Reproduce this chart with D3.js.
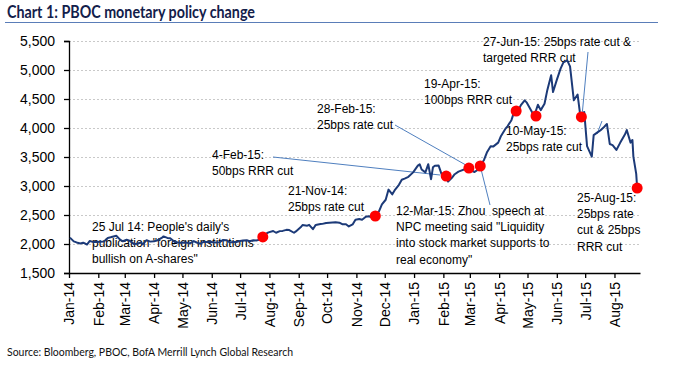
<!DOCTYPE html>
<html><head><meta charset="utf-8">
<script src="https://cdn.jsdelivr.net/npm/d3@7"></script>
<style>
body{margin:0;background:#fff;}
svg{display:block;}
</style></head>
<body>
<svg id="chart" width="689" height="368"></svg>
<script>
// ---- data (Shanghai Composite) ----
const dates = [
"2014-01-02","2014-01-06","2014-01-09","2014-01-13","2014-01-16","2014-01-20","2014-01-23","2014-01-27","2014-01-30",
"2014-02-07","2014-02-11","2014-02-14","2014-02-18","2014-02-20","2014-02-24","2014-02-27",
"2014-03-03","2014-03-06","2014-03-11","2014-03-14","2014-03-18","2014-03-20","2014-03-24","2014-03-28",
"2014-04-01","2014-04-04","2014-04-09","2014-04-11","2014-04-15","2014-04-18","2014-04-23","2014-04-28",
"2014-05-05","2014-05-09","2014-05-13","2014-05-16","2014-05-20","2014-05-23","2014-05-27","2014-05-30",
"2014-06-04","2014-06-09","2014-06-13","2014-06-17","2014-06-20","2014-06-24","2014-06-27",
"2014-07-01","2014-07-04","2014-07-08","2014-07-11","2014-07-15","2014-07-18","2014-07-22","2014-07-25","2014-07-29","2014-07-31",
"2014-08-05","2014-08-08","2014-08-12","2014-08-15","2014-08-19","2014-08-22","2014-08-27","2014-08-29",
"2014-09-03","2014-09-05","2014-09-10","2014-09-12","2014-09-16","2014-09-19","2014-09-24","2014-09-26","2014-09-30",
"2014-10-10","2014-10-14","2014-10-17","2014-10-21","2014-10-24","2014-10-28","2014-10-31",
"2014-11-04","2014-11-07","2014-11-11","2014-11-14","2014-11-18","2014-11-21","2014-11-25","2014-11-28",
"2014-12-02","2014-12-05","2014-12-09","2014-12-12","2014-12-16","2014-12-19","2014-12-22","2014-12-26","2014-12-31",
"2015-01-05","2015-01-07","2015-01-09","2015-01-13","2015-01-16","2015-01-19","2015-01-21","2015-01-23","2015-01-27","2015-01-30",
"2015-02-03","2015-02-04","2015-02-06","2015-02-10","2015-02-13","2015-02-17","2015-02-27",
"2015-03-03","2015-03-06","2015-03-10","2015-03-12","2015-03-16","2015-03-19","2015-03-23","2015-03-26","2015-03-31",
"2015-04-03","2015-04-08","2015-04-10","2015-04-14","2015-04-17","2015-04-21","2015-04-24","2015-04-28","2015-04-30",
"2015-05-05","2015-05-08","2015-05-12","2015-05-15","2015-05-19","2015-05-22","2015-05-26","2015-05-28",
"2015-06-01","2015-06-05","2015-06-08","2015-06-12","2015-06-15","2015-06-19","2015-06-23","2015-06-26","2015-06-30",
"2015-07-03","2015-07-08","2015-07-10","2015-07-14","2015-07-17","2015-07-21","2015-07-24","2015-07-27","2015-07-30",
"2015-08-03","2015-08-07","2015-08-12","2015-08-14","2015-08-18","2015-08-20","2015-08-21","2015-08-24","2015-08-25"
];
const values = [
2110,2045,2027,2010,2023,1991,2052,2033,2033,
2044,2104,2115,2135,2143,2076,2047,
2075,2059,1998,2004,2025,1994,2066,2041,
2047,2058,2105,2131,2105,2098,2033,2020,
2027,2011,2050,2026,2005,2034,2034,2039,
2024,2029,2070,2066,2026,2035,2036,
2050,2059,2065,2047,2066,2059,2075,2127,2183,2201,
2224,2194,2222,2226,2244,2240,2194,2217,
2288,2327,2316,2331,2255,2329,2344,2347,2363,
2374,2367,2341,2340,2302,2337,2420,
2430,2418,2469,2478,2457,2487,2568,2683,
2763,2938,2856,2938,3021,3108,3128,3158,3235,
3351,3374,3285,3235,3376,3117,3323,3351,3352,3210,
3204,3174,3076,3141,3203,3247,3310,
3263,3241,3286,3349,3449,3577,3687,3683,3748,
3863,3995,4034,4135,4287,4293,4394,4476,4442,
4298,4205,4401,4308,4417,4657,4910,4620,
4829,5023,5131,5166,5062,4478,4577,4193,4277,
3687,3507,3878,3925,3957,4017,4070,3725,3705,
3622,3744,3887,3965,3748,3794,3507,3210,2965
];
// policy events (red dots)
const eventDates  = ["2014-07-25","2014-11-21","2015-02-04","2015-02-28","2015-03-12","2015-04-19","2015-05-10","2015-06-27","2015-08-25"];
const eventValues = [2121,2483,3172,3310,3345,4293,4207,4190,2965];
const yTicks = [1500,2000,2500,3000,3500,4000,4500,5000,5500];
const titleText = "Chart 1: PBOC monetary policy change";
const sourceText = "Source: Bloomberg, PBOC, BofA Merrill Lynch Global Research";
const notes = [
  {lines:["25 Jul 14: People's daily's","publication \"foreign institutions","bullish on A-shares\""], x:92, y:231},
  {lines:["21-Nov-14:","25bps rate cut"], x:288, y:195},
  {lines:["4-Feb-15:","50bps RRR cut"], x:212, y:159},
  {lines:["28-Feb-15:","25bps rate cut"], x:317, y:113},
  {lines:["12-Mar-15: Zhou  speech at","NPC meeting said \"Liquidity","into stock market supports to","real economy\""], x:396, y:215},
  {lines:["19-Apr-15:","100bps RRR cut"], x:424, y:88},
  {lines:["10-May-15:","25bps rate cut"], x:506, y:135},
  {lines:["27-Jun-15: 25bps rate cut &","targeted RRR cut"], x:483, y:46},
  {lines:["25-Aug-15:","25bps rate","cut & 25bps","RRR cut"], x:577, y:202}
];
// leader lines: from text point to event index
const leaders = [
  {x:273, y:157, ev:2, dx:-6, dy:-1},
  {x:395, y:125, ev:3, dx:-3, dy:-3},
  {x:490, y:205, ev:4, dx:1, dy:4},
  {x:588, y:52,  ev:7, dx:1, dy:-5}
];

const parse = d3.timeParse("%Y-%m-%d");
const series = dates.map((d,i)=>({date:parse(d), value:values[i]}));
const events = eventDates.map((d,i)=>({date:parse(d), value:eventValues[i]}));

const svg = d3.select("#chart");
const x = d3.scaleTime().domain([parse("2014-01-01"), parse("2015-08-28")]).range([69, 640]);
const y = d3.scaleLinear().domain([1500, 5500]).range([273, 41]);

// title
svg.append("text").attr("x",7).attr("y",18)
  .attr("font-family","Lato, 'Open Sans', sans-serif").attr("font-weight","bold")
  .attr("font-size",16.5).attr("fill","#13204a")
  .attr("textLength",248).attr("lengthAdjust","spacingAndGlyphs")
  .text(titleText);
svg.append("line").attr("x1",5).attr("x2",658).attr("y1",22.5).attr("y2",22.5)
  .attr("stroke","#5a7db8").attr("stroke-width",1.2);

// grid
svg.append("g").selectAll("line").data(yTicks.slice(1)).join("line")
  .attr("x1",69).attr("x2",640).attr("y1",d=>y(d)+0.5).attr("y2",d=>y(d)+0.5)
  .attr("stroke","#c9c9c9").attr("stroke-dasharray","2,2").attr("stroke-width",1);

// axes
const font = "Liberation Sans, Arial, sans-serif";
const yAxis = svg.append("g").attr("transform","translate(69,0)")
  .call(d3.axisLeft(y).tickValues(yTicks).tickFormat(d3.format(",")).tickSize(5).tickPadding(9));
yAxis.selectAll("text").attr("font-size",14).attr("font-family",font).attr("fill","#000");
yAxis.selectAll("line,path").attr("stroke","#000").attr("stroke-width",1.3);

const xAxis = svg.append("g").attr("transform","translate(0,273)")
  .call(d3.axisBottom(x).ticks(d3.timeMonth.every(1)).tickFormat(d3.timeFormat("%b-%y")).tickSizeInner(5).tickSizeOuter(0));
xAxis.selectAll("text").attr("font-size",14).attr("font-family",font).attr("fill","#000")
  .attr("transform","rotate(-90)").attr("text-anchor","end").attr("x",-9).attr("y",0).attr("dy","0.35em");
xAxis.selectAll("line,path").attr("stroke","#000").attr("stroke-width",1.3);

// annotations text
const ann = svg.append("g").attr("font-family",font).attr("font-size",12).attr("fill","#000")
  .style("white-space","pre");
notes.forEach(n=>{
  const t = ann.append("text").attr("x",n.x).attr("y",n.y).attr("xml:space","preserve");
  n.lines.forEach((l,i)=>t.append("tspan").attr("x",n.x).attr("dy", i===0?0:16.2).text(l));
});

// leaders
svg.append("g").selectAll("line").data(leaders).join("line")
  .attr("x1",d=>d.x).attr("y1",d=>d.y)
  .attr("x2",d=>x(events[d.ev].date)+d.dx).attr("y2",d=>y(events[d.ev].value)+d.dy)
  .attr("stroke","#4f7fbf").attr("stroke-width",1);
svg.append("line").attr("x1",597).attr("y1",134).attr("x2",602).attr("y2",121)
  .attr("stroke","#4f7fbf").attr("stroke-width",1);

// series line
svg.append("path").datum(series)
  .attr("d", d3.line().x(d=>x(d.date)).y(d=>y(d.value)))
  .attr("fill","none").attr("stroke","#1c3a78").attr("stroke-width",2).attr("stroke-linejoin","round");

// dots
svg.append("g").selectAll("circle").data(events).join("circle")
  .attr("cx",d=>x(d.date)).attr("cy",d=>y(d.value)).attr("r",5.5).attr("fill","#ff0000");

// source
svg.append("text").attr("x",7).attr("y",356)
  .attr("font-family","Lato, 'Open Sans', sans-serif").attr("font-size",11).attr("fill","#111")
  .attr("textLength",286).attr("lengthAdjust","spacingAndGlyphs")
  .text(sourceText);
</script>
</body></html>
